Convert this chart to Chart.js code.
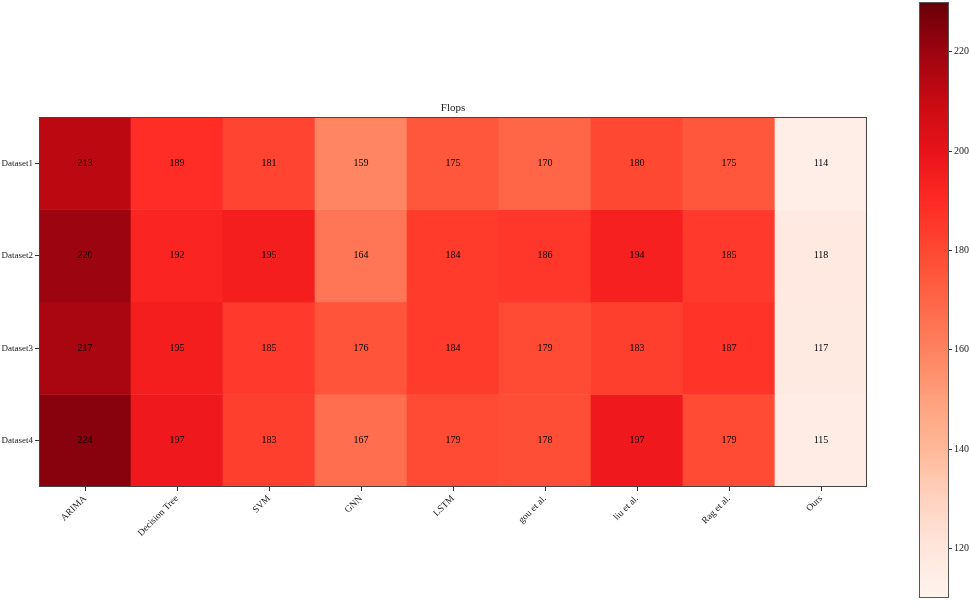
<!DOCTYPE html>
<html lang="en">
<head>
    <meta charset="UTF-8">
    <title>Flops</title>
    <script src="https://cdn.jsdelivr.net/npm/chart.js"></script>
    <style>
        body { margin: 0; background: #fff; }
        #wrap { position: relative; width: 969px; height: 604px; }
        #heat { position: absolute; left: 0; top: 0; }
        #bar { position: absolute; left: 919px; top: 0; }
    </style>
</head>
<body>
    <div id="wrap">
        <canvas id="heat" width="969" height="604"></canvas>
        <canvas id="bar" width="50" height="604"></canvas>
    </div>

    <script>
        // data
        const rowLabels = ['Dataset1', 'Dataset2', 'Dataset3', 'Dataset4'];
        const models = ['ARIMA', 'Decision Tree', 'SVM', 'GNN', 'LSTM', 'gou et al.', 'liu et al.', 'Rag et al.', 'Ours'];
        const dataset1 = [213, 189, 181, 159, 175, 170, 180, 175, 114];
        const dataset2 = [220, 192, 195, 164, 184, 186, 194, 185, 118];
        const dataset3 = [217, 195, 185, 176, 184, 179, 183, 187, 117];
        const dataset4 = [224, 197, 183, 167, 179, 178, 197, 179, 115];
        const colorbarTicks = [120, 140, 160, 180, 200, 220];
        const vmin = 110, vmax = 230;

        const FONT = "'Liberation Serif', 'Times New Roman', serif";

        // Reds-like colour ramp, sampled from the reference colourbar
        const ramp = ['#fff4ee', '#ffe6dc', '#ffd2c0', '#ffb898', '#ffa07c', '#ff8260', '#ff6546',
                      '#ff4832', '#ff2a24', '#e8121a', '#c80a12', '#9c0410', '#680008'];

        function hexToRgb(h) {
            return [parseInt(h.slice(1, 3), 16), parseInt(h.slice(3, 5), 16), parseInt(h.slice(5, 7), 16)];
        }
        function colorFor(v) {
            let t = (v - vmin) / (vmax - vmin);
            t = Math.max(0, Math.min(1, t)) * (ramp.length - 1);
            const i = Math.min(Math.floor(t), ramp.length - 2);
            const f = t - i;
            const a = hexToRgb(ramp[i]), b = hexToRgb(ramp[i + 1]);
            const c = a.map((x, k) => Math.round(x + (b[k] - x) * f));
            return `rgb(${c[0]}, ${c[1]}, ${c[2]})`;
        }

        const allRows = [dataset1, dataset2, dataset3, dataset4];

        // no extra label padding, keep the plot box where we put it
        function noPad(scale) {
            scale.paddingTop = 0;
            scale.paddingBottom = 0;
        }

        // cell values, frame and title
        const heatPlugin = {
            id: 'heatExtras',
            afterDatasetsDraw(chart) {
                const ctx = chart.ctx;
                const area = chart.chartArea;
                ctx.save();
                ctx.font = '10px ' + FONT;
                ctx.fillStyle = '#000';
                ctx.textAlign = 'center';
                ctx.textBaseline = 'middle';
                chart.data.datasets.forEach((ds, di) => {
                    chart.getDatasetMeta(di).data.forEach((el, j) => {
                        const p = el.getCenterPoint();
                        ctx.fillText(String(ds.values[j]), p.x, p.y);
                    });
                });
                ctx.strokeStyle = '#444';
                ctx.lineWidth = 1;
                ctx.strokeRect(area.left + 0.5, area.top + 0.5, area.right - area.left - 1, area.bottom - area.top - 1);
                ctx.font = '11px ' + FONT;
                ctx.fillStyle = '#222';
                ctx.textBaseline = 'bottom';
                ctx.fillText('Flops', (area.left + area.right) / 2, area.top - 3);
                ctx.restore();
            }
        };

        new Chart(document.getElementById('heat'), {
            type: 'bar',
            data: {
                labels: models,
                datasets: allRows.map((vals, i) => ({
                    label: rowLabels[i],
                    data: vals.map(() => [i, i + 1]),
                    values: vals,
                    backgroundColor: vals.map(colorFor),
                    borderWidth: 0,
                    barPercentage: 1,
                    categoryPercentage: 1,
                    grouped: false
                }))
            },
            options: {
                responsive: false,
                animation: false,
                layout: { padding: { top: 117, right: 102, left: 0, bottom: 0 } },
                plugins: { legend: { display: false }, tooltip: { enabled: false }, title: { display: false } },
                scales: {
                    x: {
                        grid: { drawOnChartArea: false, offset: false, tickLength: 4, color: '#333' },
                        border: { display: false },
                        ticks: { autoSkip: false, maxRotation: 45, minRotation: 45, color: '#222', padding: 2,
                                 font: { family: FONT, size: 9.5 } },
                        afterFit(scale) { scale.height = 117; }
                    },
                    y: {
                        min: 0, max: 4, reverse: true,
                        grid: { drawOnChartArea: false, tickLength: 4, color: '#333' },
                        border: { display: false },
                        afterBuildTicks(scale) { scale.ticks = rowLabels.map((_, i) => ({ value: i + 0.5 })); },
                        ticks: { color: '#222', padding: 2, font: { family: FONT, size: 9 },
                                 callback: (v) => rowLabels[Math.floor(v)] },
                        afterFit(scale) { scale.width = 39; noPad(scale); }
                    }
                }
            },
            plugins: [heatPlugin]
        });

        // colour bar
        const framePlugin = {
            id: 'cbFrame',
            afterDatasetsDraw(chart) {
                const a = chart.chartArea, ctx = chart.ctx;
                ctx.save();
                ctx.strokeStyle = '#555';
                ctx.lineWidth = 1;
                ctx.strokeRect(a.left + 0.5, a.top + 0.5, a.right - a.left - 1, a.bottom - a.top - 1);
                ctx.restore();
            }
        };

        new Chart(document.getElementById('bar'), {
            type: 'bar',
            data: {
                labels: ['cb'],
                datasets: [{
                    data: [[vmin, vmax]],
                    barPercentage: 1,
                    categoryPercentage: 1,
                    borderWidth: 0,
                    backgroundColor(c) {
                        const chart = c.chart;
                        if (!chart.chartArea) return '#fff';
                        const y = chart.scales.y;
                        const g = chart.ctx.createLinearGradient(0, y.getPixelForValue(vmin), 0, y.getPixelForValue(vmax));
                        ramp.forEach((col, i) => g.addColorStop(i / (ramp.length - 1), col));
                        return g;
                    }
                }]
            },
            options: {
                responsive: false,
                animation: false,
                layout: { padding: { top: 2, bottom: 6, left: 0, right: 0 } },
                plugins: { legend: { display: false }, tooltip: { enabled: false } },
                scales: {
                    x: { display: false },
                    y: {
                        position: 'right',
                        min: vmin, max: vmax,
                        grid: { drawOnChartArea: false, tickLength: 3, color: '#333' },
                        border: { display: false },
                        afterBuildTicks(scale) { scale.ticks = colorbarTicks.map(v => ({ value: v })); },
                        ticks: { color: '#222', padding: 2, font: { family: FONT, size: 10 } },
                        afterFit(scale) { scale.width = 20; noPad(scale); }
                    }
                }
            },
            plugins: [framePlugin]
        });
    </script>
</body>
</html>
